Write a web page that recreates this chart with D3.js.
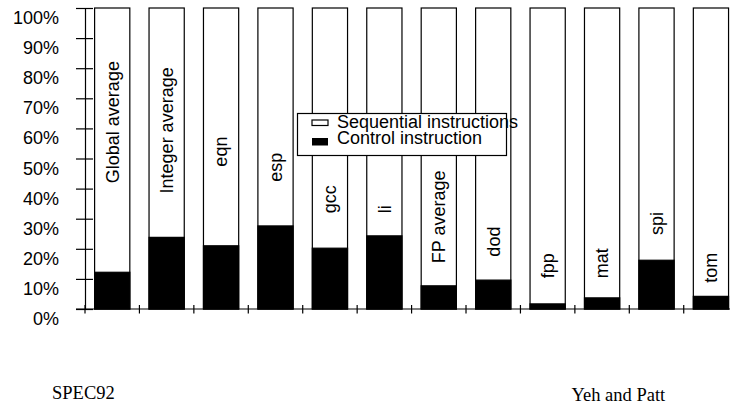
<!DOCTYPE html>
<html lang="en">
  <head>
    <meta charset="UTF-8" />
    <script src="https://cdn.jsdelivr.net/npm/d3@7"></script>
    <style>
      * {
        margin: 0;
        padding: 0;
      }
      body {
        background: #fff;
      }
      #container svg {
        display: block;
      }
    </style>
    <title>SPEC92 control instructions</title>
  </head>
  <body>
    <div id="container"></div>
  </body>
  <script>
    // benchmarks, left to right
    const benchmarks = [
      'Global average',
      'Integer average',
      'eqn',
      'esp',
      'gcc',
      'li',
      'FP average',
      'dod',
      'fpp',
      'mat',
      'spi',
      'tom',
    ];
    // share of control instructions (%)
    const controlPct = [12.2, 23.8, 21.0, 27.6, 20.2, 24.3, 7.7, 9.6, 1.7, 3.7, 16.2, 4.2];
    // where each rotated label starts (in % on the y axis)
    const labelAt = [41.8, 38.4, 47.3, 42.3, 31.8, 31.8, 15.2, 17.4, 10.2, 10.2, 24.6, 8.7];
    const yTicks = [0, 10, 20, 30, 40, 50, 60, 70, 80, 90, 100];
    const legendItems = ['Sequential instructions', 'Control instruction'];

    const width = 730;
    const height = 408;
    const sans = "'Liberation Sans', Arial, Helvetica, sans-serif";
    const serif = "'Liberation Serif', 'Times New Roman', serif";

    const x = d3
      .scaleBand()
      .domain(benchmarks)
      .range([85, 85 + 12 * 54.43])
      .paddingInner(0.353)
      .paddingOuter(0.353 / 2);

    const y = d3.scaleLinear().domain([0, 100]).range([309, 8]);

    const svg = d3
      .select('#container')
      .append('svg')
      .attr('width', width)
      .attr('height', height)
      .style('overflow', 'hidden');

    const gap = (x.step() - x.bandwidth()) / 2;

    // bars: white part (sequential) with outline
    svg
      .append('g')
      .selectAll('rect')
      .data(benchmarks)
      .join('rect')
      .attr('x', (d) => x(d))
      .attr('y', y(100))
      .attr('width', x.bandwidth())
      .attr('height', y(0) - y(100))
      .attr('fill', '#fff')
      .attr('stroke', '#000')
      .attr('stroke-width', 1.2);

    // bars: black part (control)
    svg
      .append('g')
      .selectAll('rect')
      .data(benchmarks)
      .join('rect')
      .attr('x', (d) => x(d))
      .attr('y', (d, i) => y(controlPct[i]))
      .attr('width', x.bandwidth())
      .attr('height', (d, i) => y(0) - y(controlPct[i]))
      .attr('fill', '#000')
      .attr('stroke', '#000')
      .attr('stroke-width', 1.2);

    // bar labels
    svg
      .append('g')
      .selectAll('text')
      .data(benchmarks)
      .join('text')
      .attr(
        'transform',
        (d, i) => `translate(${x(d) + x.bandwidth() / 2},${y(labelAt[i])}) rotate(-90)`
      )
      .attr('dy', '0.35em')
      .attr('text-anchor', 'start')
      .attr('font-family', sans)
      .attr('font-size', 18)
      .attr('fill', '#000')
      .text((d) => d);

    // y axis
    const yAxis = svg
      .append('g')
      .attr('transform', 'translate(85,0)')
      .call(
        d3
          .axisLeft(y)
          .tickValues(yTicks)
          .tickFormat((d) => d + '%')
          .tickSize(9)
          .tickSizeOuter(0)
      );
    yAxis.select('.domain').attr('stroke', '#000').attr('stroke-width', 1.2);
    yAxis
      .selectAll('.tick line')
      .attr('x1', 8)
      .attr('x2', -9)
      .attr('stroke', '#000')
      .attr('stroke-width', 1.2);
    yAxis
      .selectAll('.tick text')
      .attr('x', -26)
      .attr('dy', 15.5)
      .attr('font-family', sans)
      .attr('font-size', 18)
      .attr('fill', '#000');

    // x axis baseline and category separators
    svg
      .append('line')
      .attr('x1', 76)
      .attr('x2', width + 20)
      .attr('y1', y(0))
      .attr('y2', y(0))
      .attr('stroke', '#000')
      .attr('stroke-width', 1.2);
    svg
      .append('g')
      .selectAll('line')
      .data(benchmarks)
      .join('line')
      .attr('x1', (d) => x(d) - gap)
      .attr('x2', (d) => x(d) - gap)
      .attr('y1', y(0) - 4)
      .attr('y2', y(0) + 4.5)
      .attr('stroke', '#000')
      .attr('stroke-width', 1.2);

    // legend
    const legend = svg.append('g');
    legend
      .append('rect')
      .attr('x', 297.5)
      .attr('y', 113.5)
      .attr('width', 209)
      .attr('height', 42)
      .attr('fill', '#fff')
      .attr('stroke', '#000')
      .attr('stroke-width', 1.2);
    legend
      .append('rect')
      .attr('x', 312)
      .attr('y', 120)
      .attr('width', 16)
      .attr('height', 5.5)
      .attr('fill', '#fff')
      .attr('stroke', '#000')
      .attr('stroke-width', 1.2);
    legend
      .append('rect')
      .attr('x', 312)
      .attr('y', 138)
      .attr('width', 16)
      .attr('height', 7.5)
      .attr('fill', '#000');
    legend
      .selectAll('text')
      .data(legendItems)
      .join('text')
      .attr('x', 337)
      .attr('y', (d, i) => 127.5 + i * 16.5)
      .attr('font-family', sans)
      .attr('font-size', 18)
      .attr('fill', '#000')
      .text((d) => d);

    // footer
    svg
      .append('text')
      .text('SPEC92')
      .attr('x', 52)
      .attr('y', 399)
      .attr('font-family', serif)
      .attr('font-size', 18.5)
      .attr('fill', '#000');
    svg
      .append('text')
      .text('Yeh and Patt')
      .attr('x', 571.5)
      .attr('y', 401)
      .attr('font-family', serif)
      .attr('font-size', 18.5)
      .attr('fill', '#000');
  </script>
</html>
